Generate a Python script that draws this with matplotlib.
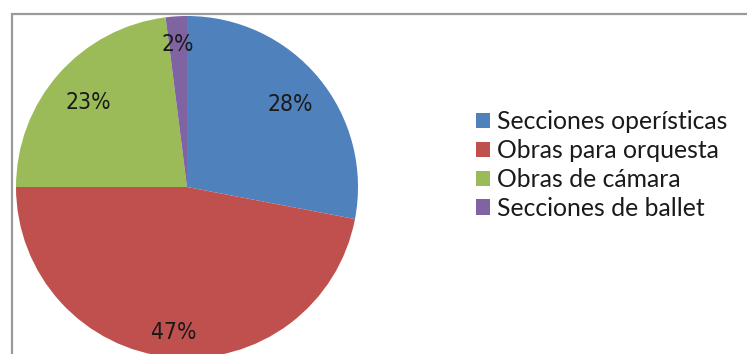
import matplotlib
matplotlib.use("Agg")
import numpy as np
import matplotlib.pyplot as plt
from matplotlib.patches import Patch, Rectangle

categories = ["Secciones operísticas", "Obras para orquesta", "Obras de cámara", "Secciones de ballet"]
values = [28, 47, 23, 2]
colors = ["#4F81BD", "#C0504D", "#9BBB59", "#8064A2"]
# radial placement of each percentage label (fraction of radius), as Excel's best fit
label_dist = [0.78, 0.84, 0.77, 0.85]

W, H = 747, 354
fig = plt.figure(figsize=(W / 100, H / 100), dpi=100)

# chart frame
fig.add_artist(Rectangle((11.5 / W, -0.1), 2.0, (H - 14.5) / H + 0.1,
                         transform=fig.transFigure, fill=False,
                         edgecolor="#9a9a9a", linewidth=1.6))

cx, cy, r = 187, H - 187, 171
ax = fig.add_axes([(cx - r) / W, (cy - r) / H, 2 * r / W, 2 * r / H])
wedges, texts, autotexts = ax.pie(
    values, colors=colors, startangle=90, counterclock=False,
    autopct=lambda p: f"{p:.0f}%", pctdistance=0.8,
    wedgeprops=dict(linewidth=0),
    textprops=dict(family=["DejaVu Sans"], fontstretch="condensed",
                   fontsize=16.5, color="#1a1a1a"))
for w, t, d in zip(wedges, autotexts, label_dist):
    ang = np.deg2rad((w.theta1 + w.theta2) / 2)
    t.set_position((d * np.cos(ang), d * np.sin(ang)))
    t.set_va("center_baseline")
ax.set_xlim(-1, 1)
ax.set_ylim(-1, 1)
ax.set_aspect("equal")
ax.axis("off")
for w in wedges:
    w.set_clip_on(False)

handles = [Patch(facecolor=c, edgecolor="none") for c in colors]
fig.legend(handles, categories, loc="upper left",
           bbox_to_anchor=(476 / W, (H - 110) / H), frameon=False,
           prop=dict(family=["Lato", "DejaVu Sans"], size=17.8),
           handlelength=0.57, handleheight=0.57, handletextpad=0.28,
           labelspacing=0.24, borderpad=0, borderaxespad=0,
           labelcolor="#1a1a1a")

fig.savefig("out.png", dpi=100)
